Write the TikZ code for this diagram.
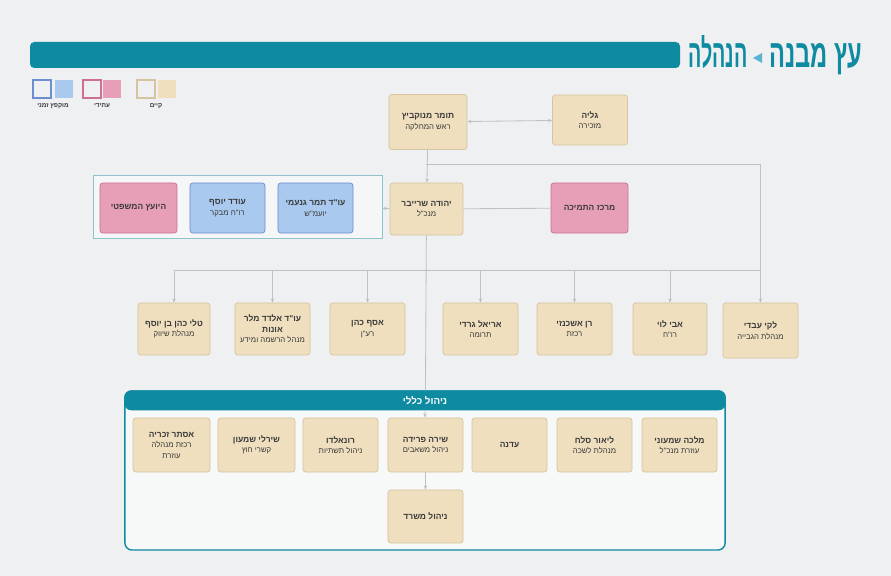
\documentclass[tikz,border=0pt]{standalone}
\usepackage{fontspec}
\setmainfont{Liberation Sans}
\newfontfamily\hebfont[Script=Hebrew]{Liberation Sans}
\TeXXeTstate=1
\usetikzlibrary{arrows.meta}

\definecolor{bg}{HTML}{EFF0F2}
\definecolor{teal}{HTML}{0E8AA1}
\definecolor{lightteal}{HTML}{5AB4D0}
\definecolor{tanfill}{HTML}{EFDFBF}
\definecolor{tanline}{HTML}{D5C49F}
\definecolor{pinkfill}{HTML}{E79FB8}
\definecolor{pinkline}{HTML}{CC6F92}
\definecolor{bluefill}{HTML}{A9C9EE}
\definecolor{blueline}{HTML}{6D8FCF}
\definecolor{linegray}{HTML}{BFC2C5}
\definecolor{grpline}{HTML}{8FC3CB}
\definecolor{txt}{HTML}{3A3A3A}

% one line of hebrew, bold or plain
\newcommand\hb[1]{{\bfseries\beginR #1\endR}}
\newcommand\hl[1]{{\fontsize{5.5}{6.5}\selectfont\beginR #1\endR}}
\newcommand\narrowtitle[2][0.6]{\scalebox{#1}[1]{\beginR #2\endR}}

\begin{document}
\begin{tikzpicture}[x=0.025cm,y=-0.025cm,
  font=\hebfont\fontsize{6}{7.5}\selectfont, text=txt,
  >={Stealth[length=3pt,width=2.6pt]},
  box/.style={draw=tanline, fill=tanfill, rounded corners=2pt, line width=0.5pt,
    minimum width=1.875cm, minimum height=1.3cm, align=center, inner sep=1pt},
  pinkbox/.style={box, draw=pinkline, fill=pinkfill},
  bluebox/.style={box, draw=blueline, fill=bluefill},
  legbox/.style={minimum size=0.45cm, inner sep=0pt, line width=0.8pt},
  titletext/.style={text=teal, inner sep=0pt, anchor=base east, font=\hebfont\bfseries\fontsize{28}{30}\selectfont},
  link/.style={draw=linegray, line width=0.6pt}]

% background and title
\fill[bg] (0,0) rectangle (891,576);
\fill[teal, rounded corners=3pt] (30,42) rectangle (680,68);
\node[titletext] (title1) at (862,68) {\narrowtitle{עץ מבנה}};
\node[titletext] (title2) at (748,68) {\narrowtitle[0.5]{הנהלה}};
\fill[lightteal] (753,58) -- (762,53) -- (762,63) -- cycle;

% legend
\node[legbox, draw=blueline] (lgblue) at (42,89) {};
\node[legbox, fill=bluefill] (lgbluef) at (64,89) {};
\node[legbox, draw=pinkline] (lgpink) at (92,89) {};
\node[legbox, fill=pinkfill] (lgpinkf) at (112,89) {};
\node[legbox, draw=tanline] (lgtan) at (146,89) {};
\node[legbox, fill=tanfill] (lgtanf) at (167,89) {};
\node[font=\hebfont\bfseries\fontsize{4.5}{5}\selectfont] (lgbluet) at (53,106) {\beginR מוקפץ זמני\endR};
\node[font=\hebfont\bfseries\fontsize{4.5}{5}\selectfont] (lgpinkt) at (102,106) {\beginR עתידי\endR};
\node[font=\hebfont\bfseries\fontsize{4.5}{5}\selectfont] (lgtant) at (156,106) {\beginR קיים\endR};

% top of the tree
\node[box, minimum width=1.95cm, minimum height=1.375cm] (head) at (428,122) {\hb{תומר מנוקביץ}\\\hl{ראש המחלקה}};
\node[box, minimum height=1.25cm] (secr) at (590,120) {\hb{גליה}\\\hl{מזכירה}};

\node[draw=grpline, fill=bg!60!white, line width=0.6pt, minimum width=7.225cm, minimum height=1.575cm] (grp) at (237.5,206.5) {};
\node[pinkbox, minimum width=1.925cm, minimum height=1.25cm] (advise) at (138.5,208) {\hb{היועץ המשפטי}};
\node[bluebox, minimum height=1.25cm] (audit) at (227.5,208) {\hb{עודד יוסף}\\\hl{רו"ח מבקר}};
\node[bluebox, minimum height=1.25cm] (legal) at (315.5,208) {\hb{עו"ד תמר גנעמי}\\\hl{יועמ"ש}};

\node[box, minimum width=1.825cm] (ceo) at (426.5,209) {\hb{יהודה שרייבר}\\\hl{מנכ"ל}};
\node[pinkbox, minimum width=1.925cm, minimum height=1.25cm] (help) at (589.5,208) {\hb{מרכז התמיכה}};

% department heads
\node[box, minimum width=1.8cm] (r7) at (174,329) {\hb{טלי כהן בן יוסף}\\\hl{מנהלת שיווק}};
\node[box] (r6) at (272.5,329) {\hb{עו"ד אלדד מלר}\\\hb{אונות}\\\hl{מנהל הרשמה ומידע}};
\node[box] (r5) at (367.5,329) {\hb{אסף כהן}\\\hl{רע"ן}};
\node[box] (r4) at (480.5,329) {\hb{אריאל גרדי}\\\hl{תרומה}};
\node[box] (r3) at (574.5,329) {\hb{רן אשכנזי}\\\hl{רכזת}};
\node[box, minimum width=1.85cm] (r2) at (670,329) {\hb{אבי לוי}\\\hl{רו"ח}};
\node[box, minimum height=1.375cm] (r1) at (760.5,330.5) {\hb{לקי עבדי}\\\hl{מנהלת הגבייה}};

% general management
\node[draw=teal, fill=bg!50!white, line width=1pt, rounded corners=5pt, minimum width=15cm, minimum height=3.975cm] (gen) at (425,470.5) {};
\fill[teal, rounded corners=5pt] (gen.north west) rectangle ([yshift=-0.5cm]gen.north east);
\node[text=white, font=\hebfont\bfseries\fontsize{7}{8}\selectfont] (genhead) at (425,401) {\beginR ניהול כללי\endR};

\node[box, minimum width=1.925cm, minimum height=1.35cm] (b7) at (171.5,445) {\hb{אסתר זכריה}\\\hl{רכזת מנהלה}\\\hl{עוזרת}};
\node[box, minimum width=1.925cm, minimum height=1.35cm] (b6) at (256.5,445) {\hb{שירלי שמעון}\\\hl{קשרי חוץ}};
\node[box, minimum height=1.35cm] (b5) at (340.5,445) {\hb{רונאלדו}\\\hl{ניהול תשתיות}};
\node[box, minimum height=1.35cm] (b4) at (425.5,445) {\hb{שירה פרידה}\\\hl{ניהול משאבים}};
\node[box, minimum height=1.35cm] (b3) at (509.5,445) {\hb{עדנה}};
\node[box, minimum height=1.35cm] (b2) at (594.5,445) {\hb{ליאור סלח}\\\hl{מנהלת לשכה}};
\node[box, minimum height=1.35cm] (b1) at (679.5,445) {\hb{מלכה שמעוני}\\\hl{עוזרת מנכ"ל}};
\node[box, minimum height=1.325cm] (b8) at (425.5,516.5) {\hb{ניהול משרד}};

% connectors
\coordinate (hub) at (426,164);
\coordinate (bus) at (426,270);
\draw[link, <->] (head) -- (secr);
\draw[link, ->] (head) -- (ceo);
\draw[link, ->] (hub) -| (r1);
\draw[link] (help) -- (ceo);
\draw[link, ->] (ceo) -- (grp);
\draw[link] (ceo) -- (gen);
\draw[link] (r7 |- bus) -- (r1 |- bus);
\foreach \n in {r2,r3,r4,r5,r6,r7}
  \draw[link, ->] (\n |- bus) -- (\n);
\draw[link, ->] (genhead.south |- gen.north) ++(0,20) -- (b4);
\draw[link, ->] (b4) -- (b8);
\end{tikzpicture}
\end{document}
